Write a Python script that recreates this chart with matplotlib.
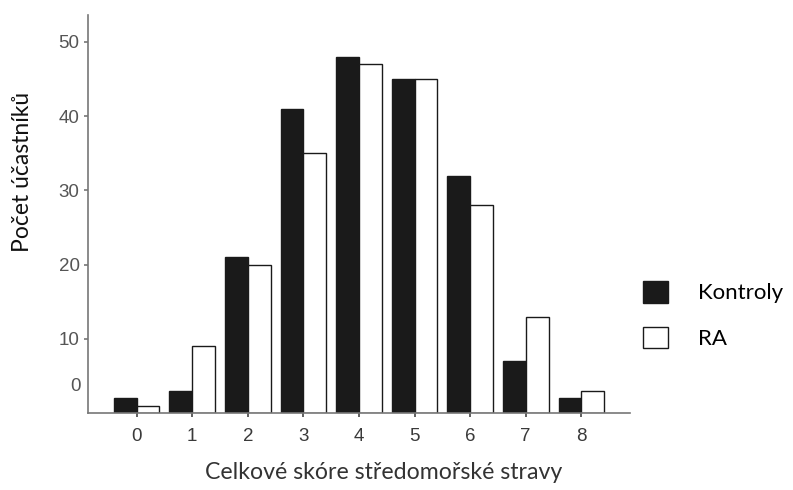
import matplotlib.pyplot as plt
import numpy as np

scores = [0, 1, 2, 3, 4, 5, 6, 7, 8]
kontroly = [2, 3, 21, 41, 48, 45, 32, 7, 2]
ra = [1, 9, 20, 35, 47, 45, 28, 13, 3]
yticks = [10, 20, 30, 40, 50]

fig = plt.figure(figsize=(7.93, 4.90), dpi=100)
ax = fig.add_axes([0.111, 0.157, 0.683, 0.812])

x = np.arange(len(scores))
w = 0.41
b1 = ax.bar(x - w / 2, kontroly, w, color='#1a1a1a', edgecolor='#1a1a1a', linewidth=1, label='Kontroly')
b2 = ax.bar(x + w / 2, ra, w, color='white', edgecolor='#1a1a1a', linewidth=1, label='RA')

ax.set_xlim(-0.876, 8.87)
ax.set_ylim(0, 53.6)
ax.set_xticks(x)
ax.set_xticklabels([str(s) for s in scores], family='Liberation Sans', fontsize=13.5, color='#3a3a3a')
ax.set_yticks(yticks)
ax.set_yticklabels([str(t) for t in yticks], family='Liberation Sans', fontsize=13.5, color='#555555')
# the zero label sits above the baseline in the original
ax.text(-1.0, 3.6, '0', ha='right', va='center', family='Liberation Sans', fontsize=13.5, color='#555555')

for s in ['top', 'right']:
    ax.spines[s].set_visible(False)
for s in ['left', 'bottom']:
    ax.spines[s].set_color('#777777')
    ax.spines[s].set_linewidth(1.2)
ax.tick_params(axis='y', length=3, width=1.2, color='#777777', pad=3)
ax.tick_params(axis='x', length=3, width=1.2, color='#444444', pad=8)

fig.text(0.028, 0.649, 'Počet účastníků', rotation=90, ha='center', va='center', family='Lato', fontsize=16.5, color='#111111')
fig.text(0.484, 0.035, 'Celkové skóre středomořské stravy', ha='center', va='center', family='Lato', fontsize=16.7, color='#333333')

fig.legend(handles=[b1, b2], loc='center left', bbox_to_anchor=(0.811, 0.357), frameon=False,
           prop={'family': 'Lato', 'size': 16}, handlelength=1.1, handleheight=1.1,
           handletextpad=1.35, labelspacing=1.05, borderpad=0, borderaxespad=0)

fig.savefig('out.png', dpi=100)
